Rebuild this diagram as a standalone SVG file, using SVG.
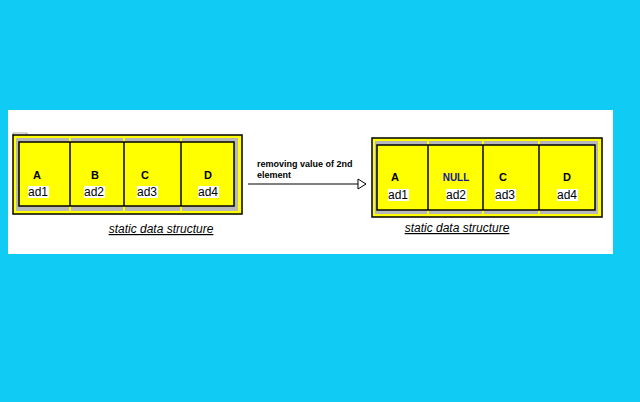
<svg xmlns="http://www.w3.org/2000/svg" width="640" height="402" viewBox="0 0 640 402">
<style>
.outer{fill:#FFFF00;stroke:#000;stroke-width:1.5}
.band{fill:#B8B8B8}
.inner{fill:#FFFF00;stroke:#000;stroke-width:1.5}
.div{stroke:#000;stroke-width:1.5}
.mark{fill:#FFFF00}
.lbl{font-family:"Liberation Sans",Arial,sans-serif;font-size:11px;font-weight:bold;fill:#000;text-anchor:middle}
.null{font-family:"Liberation Sans",Arial,sans-serif;font-size:10px;font-weight:bold;fill:#18189A;text-anchor:middle}
.ad{font-family:"Liberation Sans",Arial,sans-serif;font-size:12px;fill:#000;text-anchor:middle}
.adbg{fill:#fff}
.cap{font-family:"Liberation Sans",Arial,sans-serif;font-size:12px;font-style:italic;fill:#000;text-anchor:middle;text-decoration:underline}
.note{font-family:"Liberation Sans",Arial,sans-serif;font-size:9px;font-weight:bold;fill:#000}
</style>
<defs>
<marker id="open" markerWidth="10" markerHeight="12" refX="9" refY="6" orient="auto" markerUnits="userSpaceOnUse">
<path d="M1,1 L9,6 L1,11 Z" fill="#fff" stroke="#000" stroke-width="1"/>
</marker>
</defs>
<rect width="640" height="402" fill="#10CCF5"/>
<rect x="8" y="110" width="605" height="144" fill="#fff"/>

<g id="left-array">
<rect x="13" y="133" width="14" height="3" fill="#fff" stroke="#999" stroke-width="0.8"/>
<rect class="outer" x="13" y="135" width="229" height="79"/>
<rect class="band" x="16" y="138" width="222" height="73"/>
<rect class="mark" x="69" y="138" width="2" height="73"/>
<rect class="mark" x="123" y="138" width="2" height="73"/>
<rect class="mark" x="180" y="138" width="2" height="73"/>
<rect class="inner" x="19" y="142" width="215" height="64"/>
<line class="div" x1="70" y1="142" x2="70" y2="206"/>
<line class="div" x1="124" y1="142" x2="124" y2="206"/>
<line class="div" x1="181" y1="142" x2="181" y2="206"/>
<g id="left-cell-1"><text class="lbl" x="37" y="179">A</text><rect class="adbg" x="28" y="186" width="21" height="12"/><text class="ad" x="38" y="196">ad1</text></g>
<g id="left-cell-2"><text class="lbl" x="95" y="179">B</text><rect class="adbg" x="84" y="186" width="21" height="12"/><text class="ad" x="94" y="196">ad2</text></g>
<g id="left-cell-3"><text class="lbl" x="145" y="179">C</text><rect class="adbg" x="137" y="186" width="21" height="12"/><text class="ad" x="147" y="196">ad3</text></g>
<g id="left-cell-4"><text class="lbl" x="208" y="179">D</text><rect class="adbg" x="198" y="186" width="21" height="12"/><text class="ad" x="208" y="196">ad4</text></g>
<text class="cap" x="161" y="233">static data structure</text>
</g>

<g id="right-array">
<rect class="outer" x="372" y="138" width="230" height="79"/>
<rect class="band" x="375" y="141" width="223" height="73"/>
<rect class="mark" x="427" y="141" width="2" height="73"/>
<rect class="mark" x="482" y="141" width="2" height="73"/>
<rect class="mark" x="538" y="141" width="2" height="73"/>
<rect class="inner" x="377" y="145" width="218" height="65"/>
<line class="div" x1="428" y1="145" x2="428" y2="210"/>
<line class="div" x1="483" y1="145" x2="483" y2="210"/>
<line class="div" x1="539" y1="145" x2="539" y2="210"/>
<g id="right-cell-1"><text class="lbl" x="395" y="181">A</text><rect class="adbg" x="388" y="189" width="21" height="12"/><text class="ad" x="398" y="199">ad1</text></g>
<g id="right-cell-2"><text class="null" x="456" y="181">NULL</text><rect class="adbg" x="446" y="189" width="21" height="12"/><text class="ad" x="456" y="199">ad2</text></g>
<g id="right-cell-3"><text class="lbl" x="503" y="181">C</text><rect class="adbg" x="495" y="189" width="21" height="12"/><text class="ad" x="505" y="199">ad3</text></g>
<g id="right-cell-4"><text class="lbl" x="567" y="181">D</text><rect class="adbg" x="557" y="189" width="21" height="12"/><text class="ad" x="567" y="199">ad4</text></g>
<text class="cap" x="457" y="232">static data structure</text>
</g>

<g id="connectors">
<line x1="248" y1="184" x2="366" y2="184" stroke="#000" stroke-width="1" marker-end="url(#open)"/>
</g>
<g id="arrow-label">
<text class="note" x="257" y="167">removing value of 2nd</text>
<text class="note" x="257" y="178">element</text>
</g>
</svg>
